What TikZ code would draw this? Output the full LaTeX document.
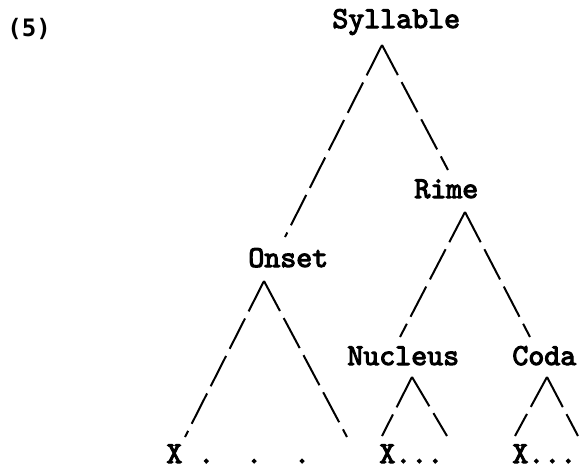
\documentclass[tikz,border=0pt]{standalone}
\usepackage{fontspec}
\newfontfamily\numfont{DejaVu Sans Mono}
\newfontfamily\treefont[FakeBold=3.5]{lmmono10-regular.otf}
\usetikzlibrary{positioning}

\begin{document}
\begin{tikzpicture}[x=0.5pt, y=-0.5pt,
    word/.style={inner sep=0pt, anchor=base west, font=\treefont\fontsize{15.2}{17}\selectfont},
    num/.style={inner sep=0pt, anchor=base west, font=\numfont\bfseries\fontsize{12}{14}\selectfont},
    branch/.style={line width=1pt, dash pattern=on 17pt off 4pt}]
    \useasboundingbox (0,0) rectangle (580,467);

    \node[num] (ex) at (7,36) {(5)};

    \node[word] (syllable) at (332,28) {Syllable};
    \node[word] (rime) at (414,198) {Rime};
    \node[word] (onset) at (248,267) {Onset};
    \node[word] (nucleus) at (347,365) {Nucleus};
    \node[word] (coda) at (512,365) {Coda};
    \node[word] (xon) at (166,463) {X~.~~.~~.};
    \node[word] (xnuc) at (379,463) {X...};
    \node[word] (xcoda) at (512,463) {X...};

    % tops and feet of the branches
    \coordinate (syllable-v) at (382,45);
    \coordinate (rime-v) at (465,212);
    \coordinate (onset-v) at (264,281);
    \coordinate (nucleus-v) at (412,377);
    \coordinate (coda-v) at (547,377);
    \coordinate (onset-t) at (285,237);
    \coordinate (rime-t) at (448,170);
    \coordinate (nucleus-t) at (400,337);
    \coordinate (coda-t) at (530,337);
    \coordinate (xon-l) at (185,437);
    \coordinate (xon-r) at (347,437);
    \coordinate (xnuc-l) at (382,436);
    \coordinate (xnuc-r) at (447,436);
    \coordinate (xcoda-l) at (515,436);
    \coordinate (xcoda-r) at (578,436);

    \draw[branch] (syllable-v) -- (onset-t);
    \draw[branch] (syllable-v) -- (rime-t);
    \draw[branch] (rime-v) -- (nucleus-t);
    \draw[branch] (rime-v) -- (coda-t);
    \draw[branch] (onset-v) -- (xon-l);
    \draw[branch] (onset-v) -- (xon-r);
    \draw[branch] (nucleus-v) -- (xnuc-l);
    \draw[branch] (nucleus-v) -- (xnuc-r);
    \draw[branch] (coda-v) -- (xcoda-l);
    \draw[branch] (coda-v) -- (xcoda-r);
\end{tikzpicture}
\end{document}
